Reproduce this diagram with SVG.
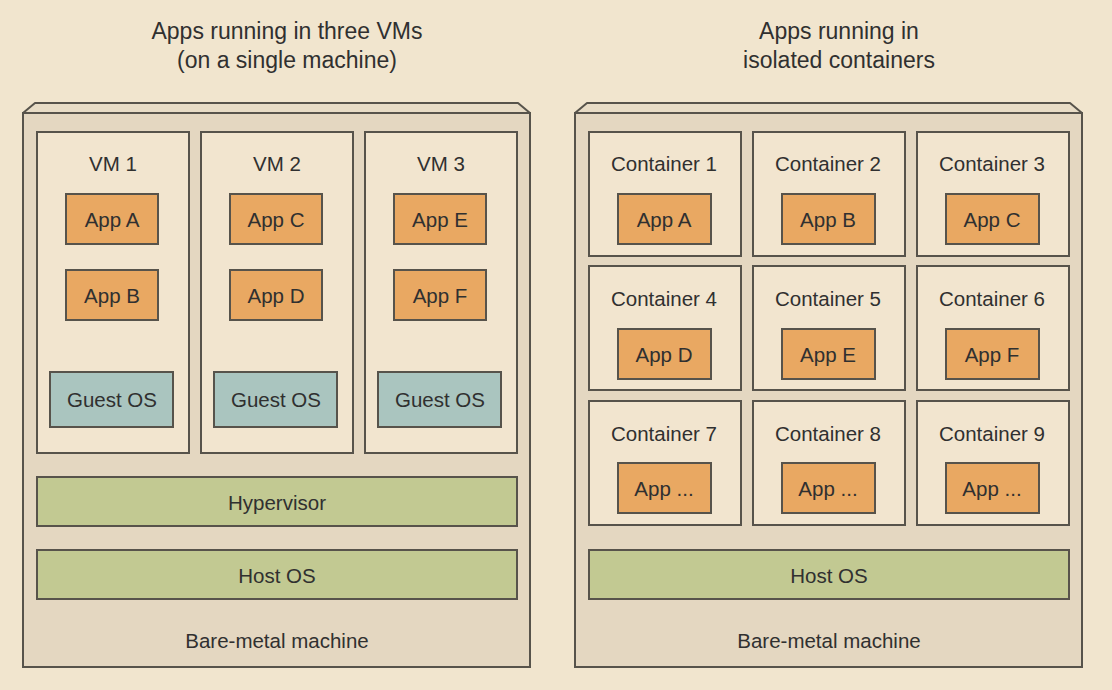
<svg xmlns="http://www.w3.org/2000/svg" width="1112" height="690" viewBox="0 0 1112 690">
  <style>
    .machine { fill: #E4D7C1; stroke: #57534B; stroke-width: 2; }
    .face { fill: #E8DCC6; stroke: #57534B; stroke-width: 2; stroke-linejoin: round; }
    .frame { fill: #F2E5CF; stroke: #57534B; stroke-width: 2; }
    .app { fill: #E9A862; stroke: #57534B; stroke-width: 2; }
    .guest { fill: #AAC5BF; stroke: #57534B; stroke-width: 2; }
    .layer { fill: #C2C992; stroke: #57534B; stroke-width: 2; }
    text { font-family: "Liberation Sans", Arial, sans-serif; fill: #303030; text-anchor: middle; }
    .title { font-size: 23px; }
    .lbl { font-size: 20.5px; }
  </style>
  <rect width="1112" height="690" fill="#F1E5CE"/>

  <!-- Title captions -->
  <g id="titles">
    <text class="title" x="287" y="39">Apps running in three VMs</text>
    <text class="title" x="287" y="68">(on a single machine)</text>
    <text class="title" x="839" y="39">Apps running in</text>
    <text class="title" x="839" y="68">isolated containers</text>
  </g>

  <!-- Left machine: virtual machines -->
  <g id="vm-machine">
    <rect class="machine" x="23" y="113" width="507" height="554"/>
    <polygon class="face" points="23,113 35,103 518,103 530,113"/>
    <text class="lbl" x="277" y="648">Bare-metal machine</text>
  </g>
  <g id="vm1">
    <rect class="frame" x="37" y="132" width="152" height="321"/>
    <text class="lbl" x="113" y="171">VM 1</text>
  </g>
  <g id="vm2">
    <rect class="frame" x="201" y="132" width="152" height="321"/>
    <text class="lbl" x="277" y="171">VM 2</text>
  </g>
  <g id="vm3">
    <rect class="frame" x="365" y="132" width="152" height="321"/>
    <text class="lbl" x="441" y="171">VM 3</text>
  </g>
  <g id="vm-app-a"><rect class="app" x="66" y="194" width="92" height="50"/><text class="lbl" x="112" y="227">App A</text></g>
  <g id="vm-app-b"><rect class="app" x="66" y="270" width="92" height="50"/><text class="lbl" x="112" y="303">App B</text></g>
  <g id="vm-app-c"><rect class="app" x="230" y="194" width="92" height="50"/><text class="lbl" x="276" y="227">App C</text></g>
  <g id="vm-app-d"><rect class="app" x="230" y="270" width="92" height="50"/><text class="lbl" x="276" y="303">App D</text></g>
  <g id="vm-app-e"><rect class="app" x="394" y="194" width="92" height="50"/><text class="lbl" x="440" y="227">App E</text></g>
  <g id="vm-app-f"><rect class="app" x="394" y="270" width="92" height="50"/><text class="lbl" x="440" y="303">App F</text></g>
  <g id="guest-os-1"><rect class="guest" x="50" y="372" width="123" height="55"/><text class="lbl" x="112" y="407">Guest OS</text></g>
  <g id="guest-os-2"><rect class="guest" x="214" y="372" width="123" height="55"/><text class="lbl" x="276" y="407">Guest OS</text></g>
  <g id="guest-os-3"><rect class="guest" x="378" y="372" width="123" height="55"/><text class="lbl" x="440" y="407">Guest OS</text></g>
  <g id="hypervisor"><rect class="layer" x="37" y="477" width="480" height="49"/><text class="lbl" x="277" y="510">Hypervisor</text></g>
  <g id="host-os-vm"><rect class="layer" x="37" y="550" width="480" height="49"/><text class="lbl" x="277" y="583">Host OS</text></g>

  <!-- Right machine: containers -->
  <g id="container-machine">
    <rect class="machine" x="575" y="113" width="507" height="554"/>
    <polygon class="face" points="575,113 587,103 1070,103 1082,113"/>
    <text class="lbl" x="829" y="648">Bare-metal machine</text>
  </g>
  <g id="container-1"><rect class="frame" x="589" y="132" width="152" height="124"/><text class="lbl" x="664" y="171">Container 1</text><rect class="app" x="618" y="194" width="93" height="50"/><text class="lbl" x="664" y="227">App A</text></g>
  <g id="container-2"><rect class="frame" x="753" y="132" width="152" height="124"/><text class="lbl" x="828" y="171">Container 2</text><rect class="app" x="782" y="194" width="93" height="50"/><text class="lbl" x="828" y="227">App B</text></g>
  <g id="container-3"><rect class="frame" x="917" y="132" width="152" height="124"/><text class="lbl" x="992" y="171">Container 3</text><rect class="app" x="946" y="194" width="93" height="50"/><text class="lbl" x="992" y="227">App C</text></g>
  <g id="container-4"><rect class="frame" x="589" y="266" width="152" height="124"/><text class="lbl" x="664" y="306">Container 4</text><rect class="app" x="618" y="329" width="93" height="50"/><text class="lbl" x="664" y="362">App D</text></g>
  <g id="container-5"><rect class="frame" x="753" y="266" width="152" height="124"/><text class="lbl" x="828" y="306">Container 5</text><rect class="app" x="782" y="329" width="93" height="50"/><text class="lbl" x="828" y="362">App E</text></g>
  <g id="container-6"><rect class="frame" x="917" y="266" width="152" height="124"/><text class="lbl" x="992" y="306">Container 6</text><rect class="app" x="946" y="329" width="93" height="50"/><text class="lbl" x="992" y="362">App F</text></g>
  <g id="container-7"><rect class="frame" x="589" y="401" width="152" height="124"/><text class="lbl" x="664" y="441">Container 7</text><rect class="app" x="618" y="463" width="93" height="50"/><text class="lbl" x="664" y="496">App ...</text></g>
  <g id="container-8"><rect class="frame" x="753" y="401" width="152" height="124"/><text class="lbl" x="828" y="441">Container 8</text><rect class="app" x="782" y="463" width="93" height="50"/><text class="lbl" x="828" y="496">App ...</text></g>
  <g id="container-9"><rect class="frame" x="917" y="401" width="152" height="124"/><text class="lbl" x="992" y="441">Container 9</text><rect class="app" x="946" y="463" width="93" height="50"/><text class="lbl" x="992" y="496">App ...</text></g>
  <g id="host-os-containers"><rect class="layer" x="589" y="550" width="480" height="49"/><text class="lbl" x="829" y="583">Host OS</text></g>

  <!-- No connectors in this figure -->
  <g id="connectors"/>
</svg>
